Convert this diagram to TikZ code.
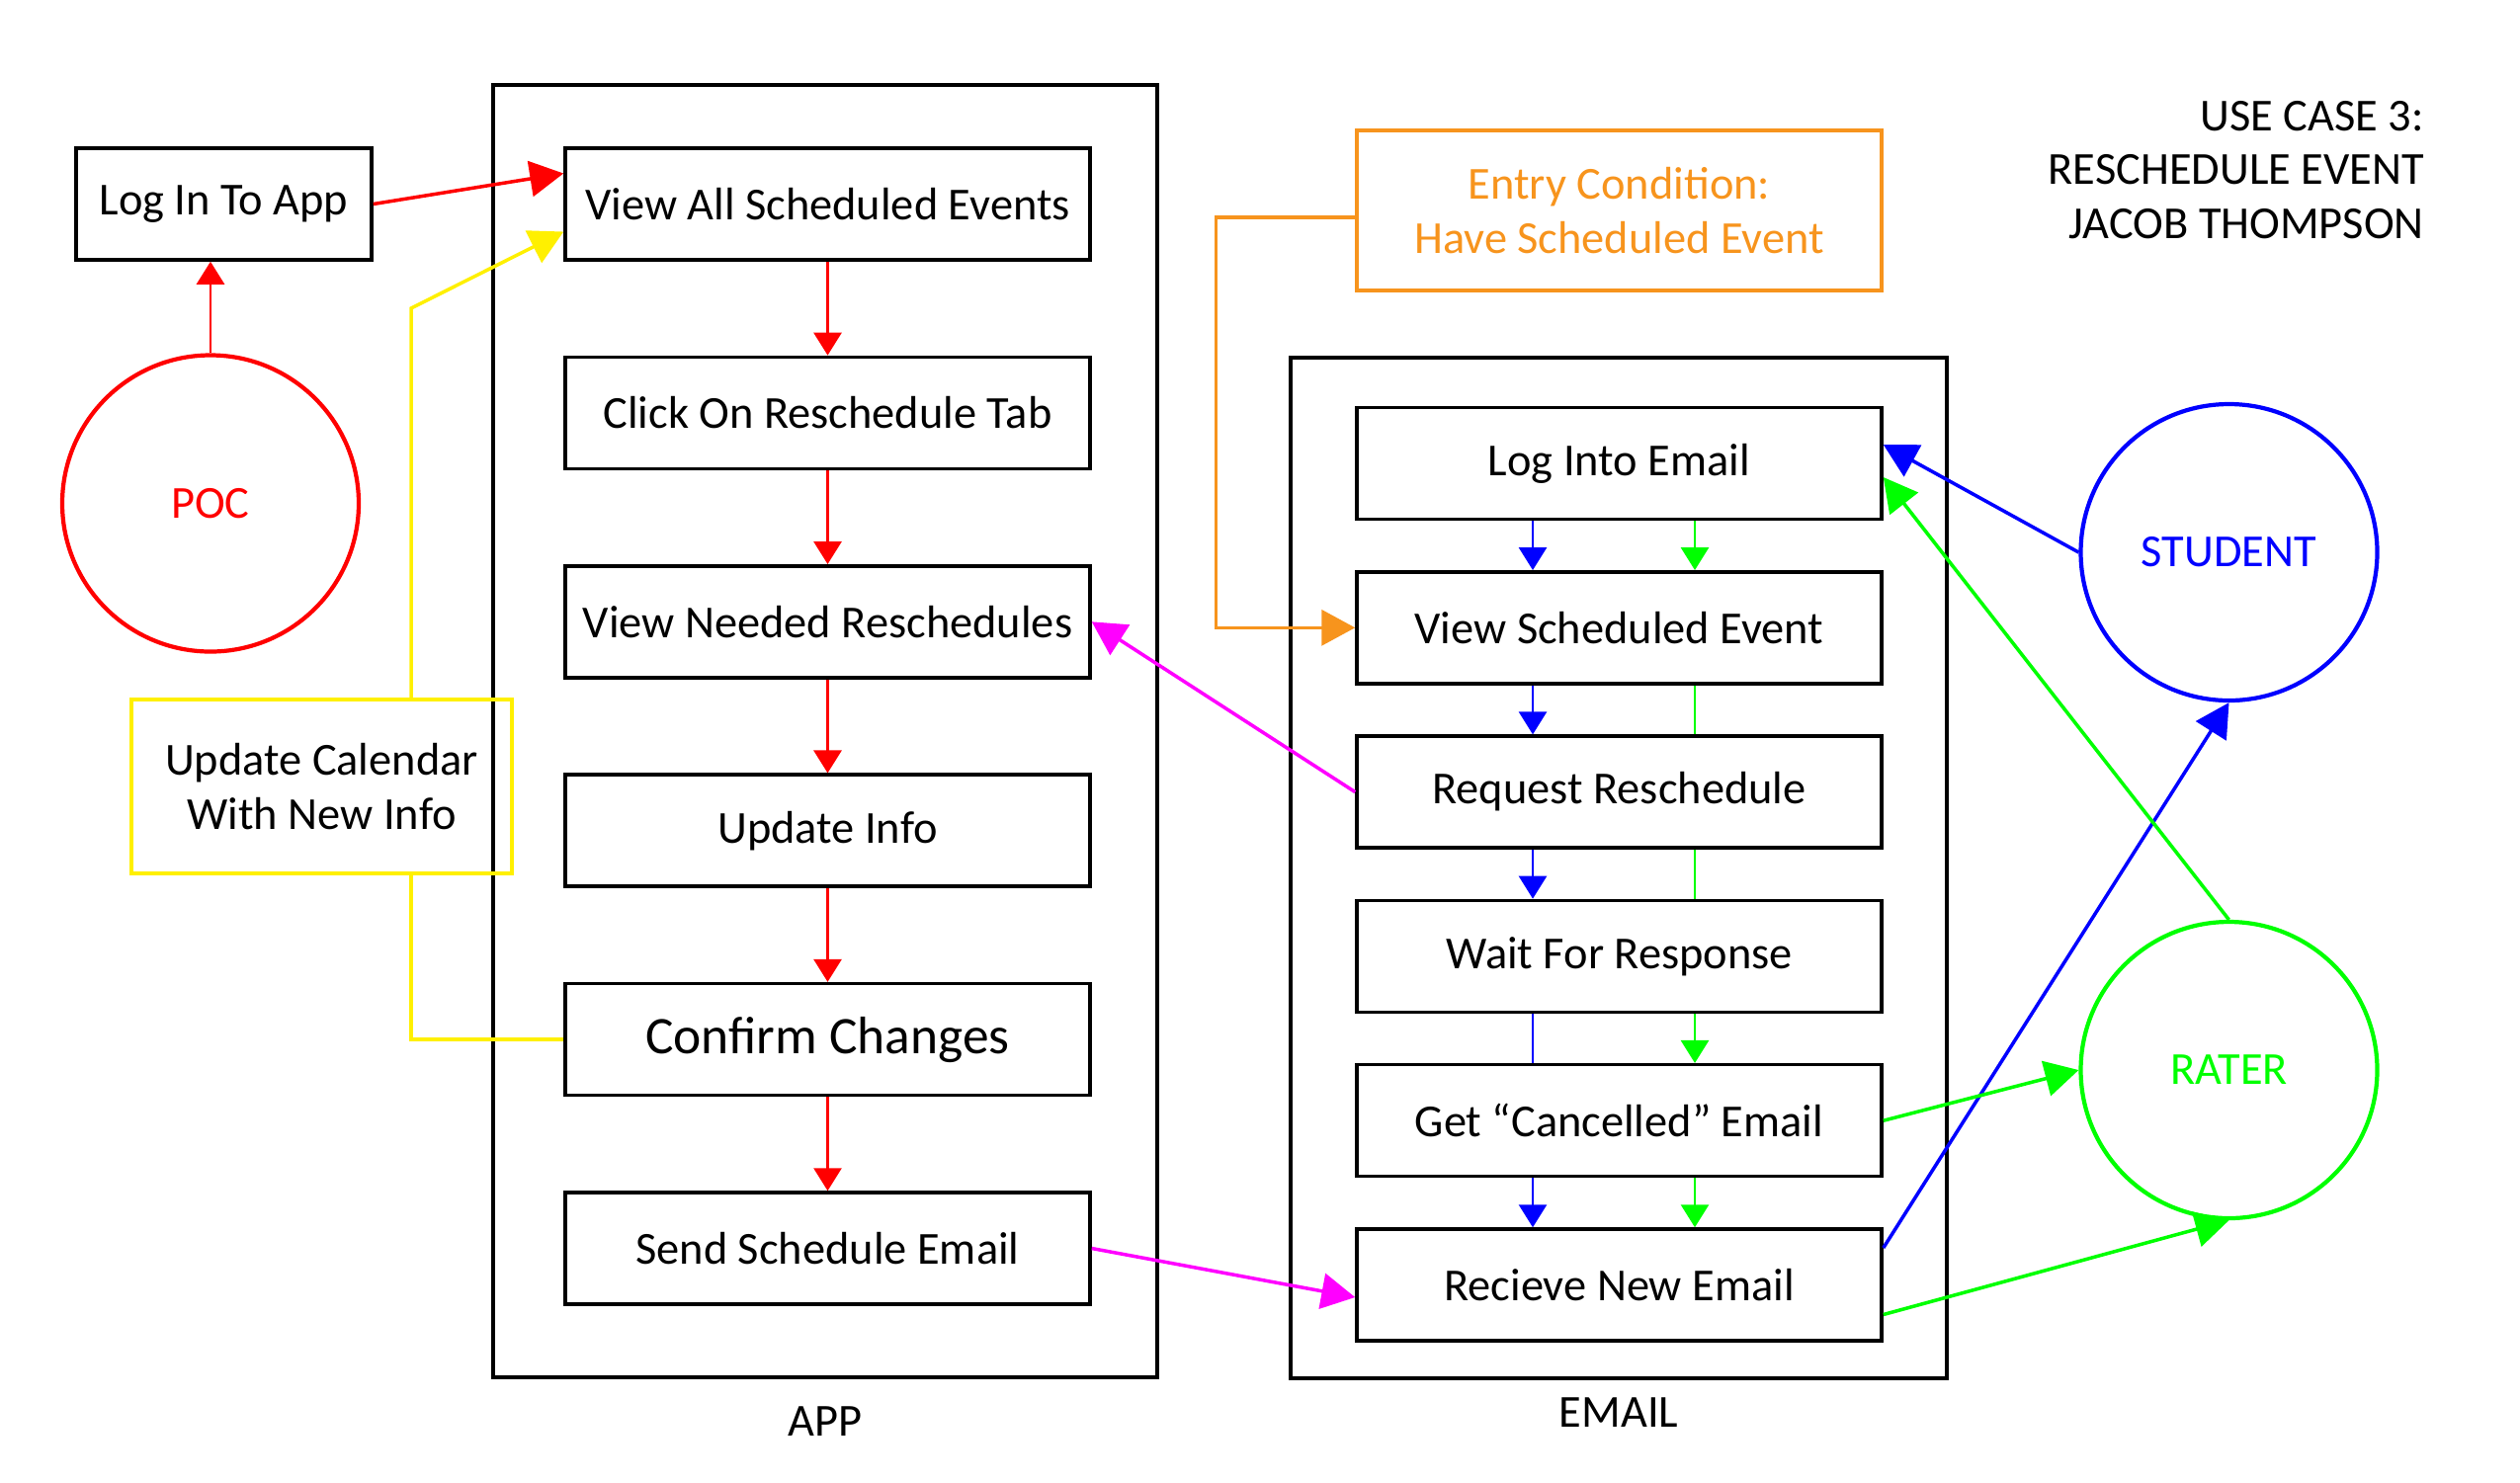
\documentclass[tikz,border=0pt]{standalone}
\usepackage{fontspec}
\setmainfont{Carlito}
\usetikzlibrary{arrows.meta,positioning}

\definecolor{calyellow}{RGB}{255,240,0}
\definecolor{entryorange}{RGB}{247,148,29}
\definecolor{linkpink}{RGB}{255,0,255}

\begin{document}
\begin{tikzpicture}[thick, font=\fontsize{13.2}{15.6}\selectfont,
    box/.style={draw, line width=1pt, minimum width=5.31cm, minimum height=1.13cm, inner sep=0pt},
    frame/.style={draw, line width=1pt, inner sep=0pt},
    actor/.style={circle, draw, line width=1.2pt, minimum size=3cm},
    arr/.style={-{Triangle[length=2.3mm, width=2.8mm]}},
    bigarr/.style={line width=1pt, -{Triangle[length=3.4mm, width=3.6mm]}}]
    \useasboundingbox (0,0) rectangle (25.5,-15);

    % Frames
    \node[frame, minimum width=6.72cm, minimum height=13.08cm] (app) at (8.35,-7.4) {};
    \node[frame, minimum width=6.64cm, minimum height=10.33cm] (email) at (16.38,-8.785) {};
    \node (applbl) at (8.35,-14.39) {APP};
    \node (emaillbl) at (16.38,-14.30) {EMAIL};

    % Title
    \node[align=right, anchor=east] (title) at (24.66,-1.72) {USE CASE 3:\\RESCHEDULE EVENT\\JACOB THOMPSON};

    % Actors
    \node[actor, draw=red, text=red] (poc) at (2.13,-5.095) {POC};
    \node[actor, draw=blue, text=blue] (student) at (22.555,-5.59) {STUDENT};
    \node[actor, draw=green, text=green] (rater) at (22.555,-10.83) {RATER};

    % App steps
    \node[box, minimum width=2.99cm] (login) at (2.265,-2.065) {Log In To App};
    \begin{scope}[node distance=2.114cm]
    \node[box] (vall) at (8.375,-2.065) {View All Scheduled Events};
    \node[box, below of=vall] (click) {Click On Reschedule Tab};
    \node[box, below of=click] (needed) {View Needed Reschedules};
    \node[box, below of=needed] (upinfo) {Update Info};
    \node[box, below of=upinfo, font=\fontsize{15.2}{18}\selectfont] (confirm) {Confirm Changes};
    \node[box, below of=confirm] (send) {Send Schedule Email};
    \end{scope}
    \node[box, draw=calyellow, align=center, minimum width=3.85cm, minimum height=1.76cm] (upd) at (3.255,-7.96) {Update Calendar\\With New Info};

    % Email steps
    \node[box, draw=entryorange, text=entryorange, align=center, minimum height=1.62cm] (entry) at (16.385,-2.13) {Entry Condition:\\Have Scheduled Event};
    \begin{scope}[node distance=1.663cm]
    \node[box] (logmail) at (16.385,-4.69) {Log Into Email};
    \node[box, below of=logmail] (viewev) {View Scheduled Event};
    \node[box, below of=viewev] (reqres) {Request Reschedule};
    \node[box, below of=reqres] (wait) {Wait For Response};
    \node[box, below of=wait] (cancel) {Get “Cancelled” Email};
    \node[box, below of=cancel] (recv) {Recieve New Email};
    \end{scope}

    % POC path
    \draw[arr, red] (poc.north) -- (poc.north |- login.south);
    \draw[bigarr, red] (login.east) -- ([yshift=3.1mm]vall.west);
    \draw[arr, red] (vall) -- (click);
    \draw[arr, red] (click) -- (needed);
    \draw[arr, red] (needed) -- (upinfo);
    \draw[arr, red] (upinfo) -- (confirm);
    \draw[arr, red] (confirm) -- (send);

    % Calendar update
    \coordinate (ybend) at (4.16,-3.12);
    \draw[bigarr, calyellow] (upd.north -| ybend) -- (ybend) -- ([yshift=-2.8mm]vall.west);
    \draw[calyellow, line width=1pt] (upd.south -| ybend) |- (confirm.west);

    % Entry condition
    \draw[bigarr, entryorange] ([yshift=-0.7mm]entry.west) -- ++(-1.41,0) |- (viewev.west);

    % Between app and email
    \draw[bigarr, linkpink] (reqres.west) -- (needed.east);
    \draw[bigarr, linkpink] (send.east) -- ([yshift=-1.25mm]recv.west);

    % Student path
    \draw[arr, blue] ([xshift=-8.75mm]logmail.south) -- ([xshift=-8.75mm]viewev.north);
    \draw[arr, blue] ([xshift=-8.75mm]viewev.south) -- ([xshift=-8.75mm]reqres.north);
    \draw[arr, blue] ([xshift=-8.75mm]reqres.south) -- ([xshift=-8.75mm]wait.north);
    \draw[blue] ([xshift=-8.75mm]wait.south) -- ([xshift=-8.75mm]cancel.north);
    \draw[arr, blue] ([xshift=-8.75mm]cancel.south) -- ([xshift=-8.75mm]recv.north);
    \draw[bigarr, blue] (student.west) -- ([yshift=1.9mm]logmail.east);
    \draw[bigarr, blue] ([yshift=3.75mm]recv.east) -- (student.south);

    % Rater path
    \draw[arr, green] ([xshift=7.65mm]logmail.south) -- ([xshift=7.65mm]viewev.north);
    \draw[green] ([xshift=7.65mm]viewev.south) -- ([xshift=7.65mm]reqres.north);
    \draw[green] ([xshift=7.65mm]reqres.south) -- ([xshift=7.65mm]wait.north);
    \draw[arr, green] ([xshift=7.65mm]wait.south) -- ([xshift=7.65mm]cancel.north);
    \draw[arr, green] ([xshift=7.65mm]cancel.south) -- ([xshift=7.65mm]recv.north);
    \draw[bigarr, green] (rater.north) -- ([yshift=-1.4mm]logmail.east);
    \draw[bigarr, green] (cancel.east) -- (rater.west);
    \draw[bigarr, green] ([yshift=-3mm]recv.east) -- (rater.south);

\end{tikzpicture}
\end{document}
